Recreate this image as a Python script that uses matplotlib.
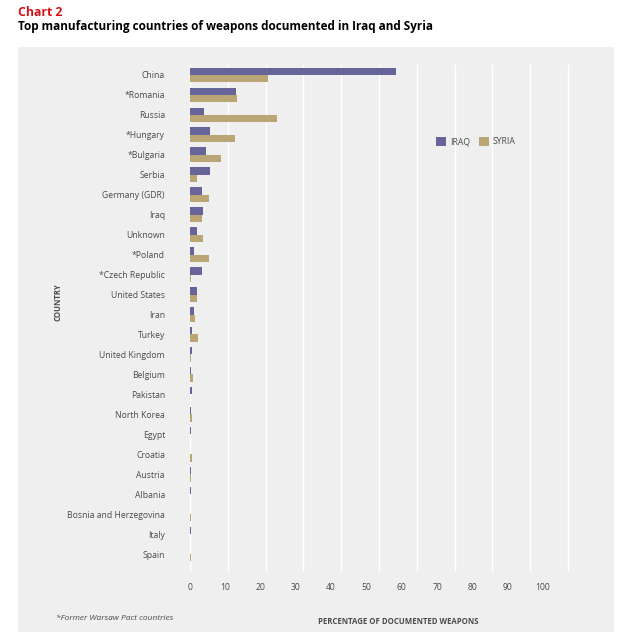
import matplotlib.pyplot as plt
from matplotlib.patches import Rectangle
import numpy as np

# data (percent of documented weapons)
countries = ["China", "*Romania", "Russia", "*Hungary", "*Bulgaria", "Serbia",
             "Germany (GDR)", "Iraq", "Unknown", "*Poland", "*Czech Republic",
             "United States", "Iran", "Turkey", "United Kingdom", "Belgium",
             "Pakistan", "North Korea", "Egypt", "Croatia", "Austria", "Albania",
             "Bosnia and Herzegovina", "Italy", "Spain"]
iraq = [54.5, 12.2, 3.8, 5.3, 4.2, 5.3, 3.2, 3.4, 1.8, 1.1, 3.2, 1.8, 1.1, 0.5,
        0.5, 0.2, 0.5, 0.2, 0.3, 0.0, 0.3, 0.3, 0.0, 0.3, 0.0]
syria = [20.6, 12.4, 23.0, 11.9, 8.2, 1.8, 5.0, 3.2, 3.4, 5.0, 0.3, 1.8, 1.3, 2.1,
         0.2, 0.8, 0.0, 0.5, 0.0, 0.6, 0.2, 0.0, 0.3, 0.0, 0.3]
xticks = list(range(0, 101, 10))

IRAQ_COL = "#67649a"
SYRIA_COL = "#baa674"
PANEL = "#efefef"
TEXT = "#4a4a4a"

plt.rcParams['font.family'] = ['Open Sans', 'DejaVu Sans']

W, H = 644, 641
fig = plt.figure(figsize=(W / 100, H / 100), dpi=100)
fig.patch.set_facecolor("white")

# grey panel behind the chart
fig.patches.append(Rectangle((18 / W, 1 - 632 / H), 596 / W, 585 / H,
                             transform=fig.transFigure, facecolor=PANEL,
                             edgecolor="none", zorder=-1))

ax = fig.add_axes([190 / W, 1 - 572 / H, 386 / W, 507 / H])
ax.set_facecolor(PANEL)
ax.patch.set_alpha(0)

y = np.arange(len(countries))
h = 0.37
ax.barh(y - h / 2, iraq, height=h, color=IRAQ_COL, label="IRAQ", zorder=3)
ax.barh(y + h / 2, syria, height=h, color=SYRIA_COL, label="SYRIA", zorder=3)

ax.set_ylim(len(countries) - 0.1, -0.5)
ax.set_xlim(0, 102.1)
ax.set_yticks(y)
ax.set_yticklabels(countries, fontsize=6.2, color=TEXT)
ax.tick_params(axis="y", length=0, pad=18)

ax.set_xticks(xticks)
ax.set_xticklabels([])
ax.tick_params(axis="x", length=0)
ax.grid(axis="x", color="white", linewidth=1.0, zorder=1)
for s in ax.spines.values():
    s.set_visible(False)

# the printed tick labels sit on a slightly tighter spacing than the grid
sec = ax.secondary_xaxis("bottom", functions=(lambda v: v * 37.8 / 35.3,
                                              lambda v: v * 35.3 / 37.8))
sec.set_xticks(xticks)
sec.tick_params(length=0, pad=8, labelsize=6.2, labelcolor=TEXT)
sec.spines["bottom"].set_visible(False)

leg = ax.legend(loc="upper left", bbox_to_anchor=(432 / W, 1 - 133 / H),
                bbox_transform=fig.transFigure, ncol=2, frameon=False,
                fontsize=6.2, handlelength=1.15, handleheight=1.15,
                handletextpad=0.4, columnspacing=1.1, borderpad=0)
for t in leg.get_texts():
    t.set_color(TEXT)

fig.text(18 / W, 1 - 16 / H, "Chart 2", color="#d0121b", fontsize=8.8,
         fontweight="bold", va="baseline")
fig.text(18 / W, 1 - 30 / H,
         "Top manufacturing countries of weapons documented in Iraq and Syria",
         color="black", fontsize=8.45, fontweight="bold", va="baseline")

fig.text(398 / W, 1 - 621 / H, "PERCENTAGE OF DOCUMENTED WEAPONS",
         ha="center", va="center", fontsize=5.6, fontweight="bold", color=TEXT)
fig.text(58 / W, 1 - 302 / H, "COUNTRY", rotation=90, ha="center",
         va="center", fontsize=5.6, fontweight="bold", color=TEXT)
fig.text(56 / W, 1 - 618 / H, "*Former Warsaw Pact countries", fontsize=6,
         style="italic", color=TEXT, va="center")

fig.savefig("out.png", dpi=100, facecolor=fig.get_facecolor())
